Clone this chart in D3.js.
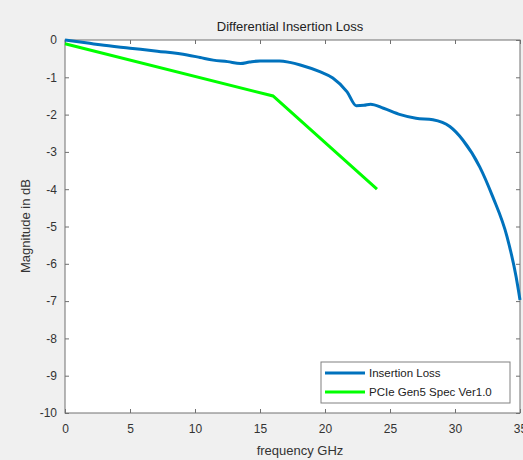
<!DOCTYPE html>
<html>
<head>
<meta charset="utf-8">
<script src="https://cdn.jsdelivr.net/npm/d3@7"></script>
<style>
  body { margin: 0; background: #f0f0f0; }
  svg { display: block; font-family: "Liberation Sans", Arial, sans-serif; }
</style>
</head>
<body>
<svg id="chart" width="523" height="460"></svg>
<script>
// insertion loss curve (GHz, dB)
const lossFreq = [0, 1.9, 2.7, 5, 7.1, 9.4, 10.4, 11.4, 12.5, 13.5, 14.2, 15, 16.5, 17.3, 18.1, 19.6, 20.6, 21.7, 22.4, 23, 23.5, 24.5, 25.8, 27, 28.3, 29.6, 30.6, 31.9, 32.9, 34, 34.7, 35];
const lossDb   = [0, -0.09, -0.13, -0.22, -0.30, -0.40, -0.47, -0.54, -0.58, -0.63, -0.59, -0.56, -0.56, -0.60, -0.67, -0.85, -1.02, -1.39, -1.76, -1.75, -1.72, -1.83, -2.0, -2.10, -2.14, -2.32, -2.68, -3.40, -4.2, -5.27, -6.35, -6.97];

// PCIe Gen5 spec mask
const specFreq = [0, 16, 24];
const specDb   = [-0.1, -1.5, -4];

const xTicks = [0, 5, 10, 15, 20, 25, 30, 35];
const yTicks = [0, -1, -2, -3, -4, -5, -6, -7, -8, -9, -10];
const seriesNames = ["Insertion Loss", "PCIe Gen5 Spec Ver1.0"];
const seriesColors = ["#0072BD", "#00FF00"];

const margin = {left: 65, right: 3, top: 40, bottom: 47};
const W = 523, H = 460;
const width = W - margin.left - margin.right;
const height = H - margin.top - margin.bottom;

const svg = d3.select("#chart");
const g = svg.append("g").attr("transform", "translate(" + margin.left + "," + margin.top + ")");

g.append("rect").attr("width", width).attr("height", height).attr("fill", "#fff");

const x = d3.scaleLinear().domain([0, 35]).range([0, width]);
const y = d3.scaleLinear().domain([-10, 0]).range([height, 0]);

const axisColor = "#707070";
const fmt = d => String(d);   // plain hyphen minus like the original

function styleAxis(sel) {
    sel.select(".domain").remove();
    sel.selectAll("line").attr("stroke", axisColor);
    sel.selectAll("text").attr("fill", "#333").style("font-size", "12px");
}

// bottom and left with labels, top and right ticks only (inward)
g.append("g").attr("transform", "translate(0," + height + ")")
    .call(d3.axisBottom(x).tickValues(xTicks).tickSize(-4).tickPadding(11).tickFormat(fmt))
    .call(styleAxis);
g.append("g")
    .call(d3.axisLeft(y).tickValues(yTicks).tickSize(-4).tickPadding(8).tickFormat(fmt))
    .call(styleAxis);
g.append("g")
    .call(d3.axisTop(x).tickValues(xTicks).tickSize(-4).tickFormat(""))
    .call(styleAxis);
g.append("g").attr("transform", "translate(" + width + ",0)")
    .call(d3.axisRight(y).tickValues(yTicks).tickSize(-4).tickFormat(""))
    .call(styleAxis);

g.append("rect").attr("width", width).attr("height", height)
    .attr("fill", "none").attr("stroke", axisColor).attr("stroke-width", 1);

const line = d3.line().x(d => x(d[0])).y(d => y(d[1])).curve(d3.curveMonotoneX);

g.append("path")
    .datum(d3.zip(lossFreq, lossDb))
    .attr("fill", "none").attr("stroke", seriesColors[0]).attr("stroke-width", 3)
    .attr("d", line);

g.append("path")
    .datum(d3.zip(specFreq, specDb))
    .attr("fill", "none").attr("stroke", seriesColors[1]).attr("stroke-width", 3)
    .attr("d", d3.line().x(d => x(d[0])).y(d => y(d[1])));

// title and labels
svg.append("text").attr("x", 290).attr("y", 31).attr("text-anchor", "middle")
    .style("font-size", "13px").attr("fill", "#222").text("Differential Insertion Loss");
svg.append("text").attr("x", 300).attr("y", 455).attr("text-anchor", "middle")
    .style("font-size", "13px").attr("fill", "#333").text("frequency GHz");
svg.append("text").attr("transform", "translate(30,226) rotate(-90)").attr("text-anchor", "middle")
    .style("font-size", "13px").attr("fill", "#333").text("Magnitude in dB");

// legend
const leg = svg.append("g").attr("transform", "translate(321,362)");
leg.append("rect").attr("width", 189).attr("height", 41)
    .attr("fill", "#fff").attr("stroke", "#808080");
seriesNames.forEach((name, i) => {
    const yy = 11 + i * 19;
    leg.append("line").attr("x1", 4).attr("x2", 44).attr("y1", yy).attr("y2", yy)
        .attr("stroke", seriesColors[i]).attr("stroke-width", 3);
    leg.append("text").attr("x", 48).attr("y", yy + 4)
        .style("font-size", "11.5px").attr("fill", "#222").text(name);
});
</script>
</body>
</html>
